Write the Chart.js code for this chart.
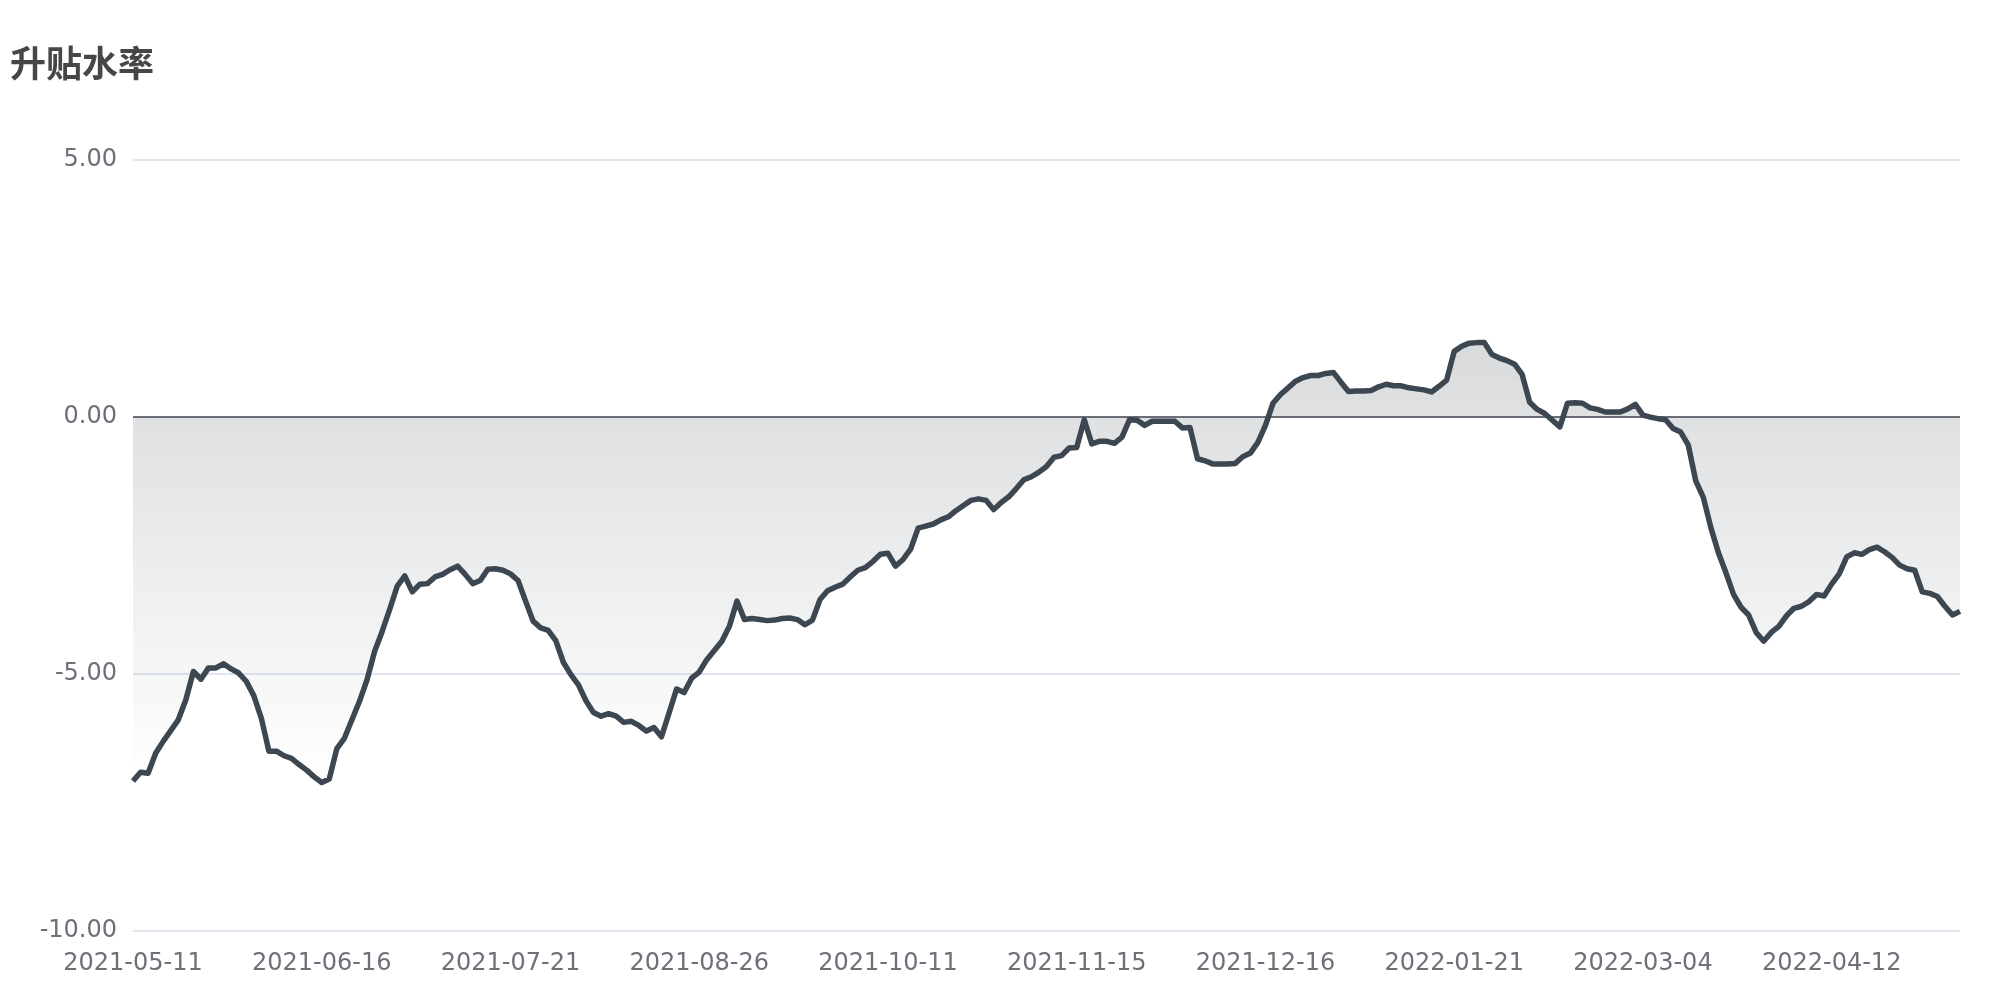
<!DOCTYPE html>
<html>
<head>
<meta charset="utf-8">
<title>升贴水率</title>
<script src="https://cdn.jsdelivr.net/npm/chart.js@4.4.1/dist/chart.umd.min.js"></script>
<style>
  html, body { margin: 0; padding: 0; background: #fff; }
  #wrap { width: 2000px; height: 1000px; }
</style>
</head>
<body>
<div id="wrap"><canvas id="basisChart" width="2000" height="1000"></canvas></div>
<script>
// trading calendar used for the category axis
const startDate = '2021-05-11';
const pointCount = 243;
const holidays = [
  '2021-06-14', '2021-09-20', '2021-09-21', '2021-10-01', '2021-10-04', '2021-10-05',
  '2021-10-06', '2021-10-07', '2022-01-03', '2022-01-31', '2022-02-01', '2022-02-02',
  '2022-02-03', '2022-02-04', '2022-04-04', '2022-04-05', '2022-05-02', '2022-05-03', '2022-05-04'
];
const missingDays = ['2021-08-13'];
const extraDays = ['2021-11-20', '2021-12-04'];
const labelEvery = 25;

// 升贴水率 (%)
const basisRate = [
  -7.08, -6.91, -6.93, -6.54, -6.31, -6.10, -5.89, -5.50, -4.95, -5.10,
  -4.88, -4.88, -4.80, -4.90, -4.98, -5.14, -5.42, -5.86, -6.50, -6.50,
  -6.59, -6.64, -6.76, -6.87, -7.00, -7.11, -7.04, -6.45, -6.25, -5.89,
  -5.53, -5.11, -4.56, -4.17, -3.74, -3.29, -3.09, -3.40, -3.25, -3.24,
  -3.11, -3.06, -2.97, -2.90, -3.06, -3.24, -3.18, -2.96, -2.95, -2.98,
  -3.05, -3.18, -3.58, -3.97, -4.10, -4.15, -4.35, -4.77, -5.01, -5.21,
  -5.52, -5.75, -5.82, -5.77, -5.82, -5.94, -5.92, -6.00, -6.11, -6.04,
  -6.22, -5.76, -5.29, -5.36, -5.08, -4.96, -4.72, -4.54, -4.36, -4.07,
  -3.58, -3.94, -3.92, -3.94, -3.96, -3.95, -3.92, -3.91, -3.94, -4.04,
  -3.95, -3.55, -3.38, -3.31, -3.25, -3.11, -2.98, -2.93, -2.81, -2.67,
  -2.65, -2.90, -2.77, -2.57, -2.16, -2.12, -2.08, -2.00, -1.94, -1.82,
  -1.72, -1.62, -1.59, -1.62, -1.80, -1.66, -1.55, -1.39, -1.22, -1.16,
  -1.07, -0.96, -0.78, -0.75, -0.60, -0.59, -0.05, -0.52, -0.47, -0.47,
  -0.51, -0.39, -0.05, -0.06, -0.16, -0.08, -0.08, -0.08, -0.08, -0.21,
  -0.20, -0.81, -0.85, -0.91, -0.91, -0.91, -0.90, -0.77, -0.70, -0.49,
  -0.16, 0.27, 0.44, 0.57, 0.70, 0.77, 0.81, 0.81, 0.85, 0.87,
  0.68, 0.50, 0.51, 0.51, 0.52, 0.59, 0.64, 0.61, 0.61, 0.57,
  0.55, 0.53, 0.49, 0.60, 0.72, 1.28, 1.38, 1.44, 1.45, 1.45,
  1.22, 1.15, 1.10, 1.03, 0.83, 0.29, 0.15, 0.07, -0.06, -0.19,
  0.27, 0.28, 0.27, 0.18, 0.15, 0.10, 0.10, 0.10, 0.16, 0.25,
  0.04, 0.00, -0.03, -0.05, -0.22, -0.29, -0.54, -1.24, -1.56, -2.15,
  -2.64, -3.03, -3.45, -3.70, -3.85, -4.19, -4.36, -4.19, -4.07, -3.87,
  -3.72, -3.68, -3.59, -3.45, -3.48, -3.25, -3.05, -2.72, -2.64, -2.67,
  -2.58, -2.53, -2.62, -2.73, -2.88, -2.95, -2.98, -3.40, -3.43, -3.49,
  -3.68, -3.85, -3.78
];

const yTicks = [-10, -5, 0, 5];

function buildDates() {
  const out = [];
  const d = new Date(startDate + 'T00:00:00Z');
  while (out.length < pointCount) {
    const s = d.toISOString().slice(0, 10);
    const wd = d.getUTCDay();
    const open = wd !== 0 && wd !== 6 && !holidays.includes(s) && !missingDays.includes(s);
    if (open || extraDays.includes(s)) out.push(s);
    d.setUTCDate(d.getUTCDate() + 1);
  }
  return out;
}
const dates = buildDates();

const labelColor = '#6e7079';
const tickFont = { family: "'DejaVu Sans', sans-serif", size: 24 };

function areaGradient(context) {
  const chart = context.chart;
  const area = chart.chartArea;
  if (!area) return 'rgba(62,72,82,0.2)';
  const y = chart.scales.y;
  const top = y.getPixelForValue(Math.max(...basisRate));
  const bottom = y.getPixelForValue(Math.min(...basisRate));
  const g = chart.ctx.createLinearGradient(0, top, 0, bottom);
  g.addColorStop(0, 'rgba(62,72,82,0.2)');
  g.addColorStop(1, 'rgba(62,72,82,0)');
  return g;
}

const ctx = document.getElementById('basisChart').getContext('2d');
new Chart(ctx, {
  type: 'line',
  data: {
    labels: dates,
    datasets: [{
      label: '升贴水率',
      data: basisRate,
      borderColor: '#3d4751',
      borderWidth: 5.5,
      borderJoinStyle: 'round',
      backgroundColor: areaGradient,
      fill: 'origin',
      tension: 0,
      pointRadius: 0,
      pointHoverRadius: 0
    }]
  },
  options: {
    responsive: false,
    animation: false,
    layout: { padding: { left: 10, right: 40, top: 0, bottom: 0 } },
    plugins: {
      legend: { display: false },
      tooltip: { enabled: false },
      title: {
        display: true,
        text: '升贴水率',
        align: 'start',
        color: '#464646',
        font: { family: "'Noto Sans CJK SC', sans-serif", size: 36, weight: 'bold' },
        padding: { top: 42, bottom: 75 }
      }
    },
    scales: {
      x: {
        grid: { display: false },
        border: { display: false },
        ticks: {
          autoSkip: false,
          maxRotation: 0,
          minRotation: 0,
          padding: 10,
          color: labelColor,
          font: tickFont,
          callback: function (value, index) {
            return index % labelEvery === 0 ? this.getLabelForValue(value) : null;
          }
        },
        afterFit: function (scale) { scale.height = 69; }
      },
      y: {
        min: yTicks[0],
        max: yTicks[yTicks.length - 1],
        border: { display: false },
        grid: {
          drawTicks: false,
          lineWidth: 2,
          color: function (c) { return c.tick && c.tick.value === 0 ? '#6e7079' : '#e0e6f1'; }
        },
        ticks: {
          stepSize: 5,
          padding: 16,
          color: labelColor,
          font: tickFont,
          callback: function (v) { return v.toFixed(2); }
        },
        afterFit: function (scale) { scale.width = 123; }
      }
    }
  }
});
</script>
</body>
</html>
